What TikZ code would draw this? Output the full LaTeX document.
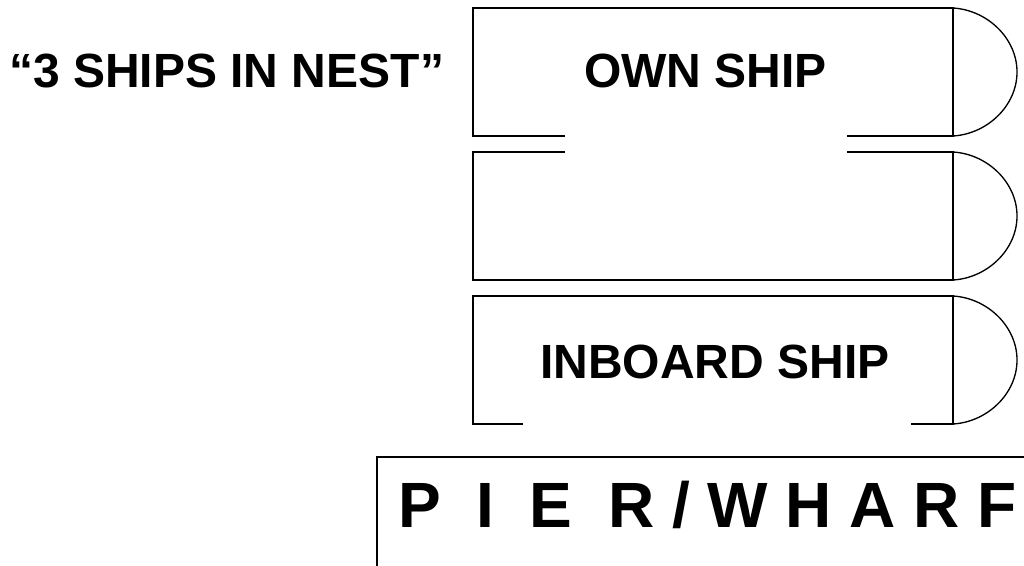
\documentclass[tikz,border=0pt]{standalone}
\usepackage{tikz}
\usepackage{fontspec}
\setmainfont{Liberation Sans}

\begin{document}
\begin{tikzpicture}[x=0.75pt,y=0.75pt,yscale=-1,xscale=1,
    hull/.style={line width=1pt,line join=miter},
    ship label/.style={anchor=base west,inner sep=0pt,font=\fontsize{36}{43}\selectfont\bfseries},
    pier label/.style={anchor=base west,inner sep=0pt,font=\fontsize{48}{58}\selectfont\bfseries}]
    \useasboundingbox (0,0) rectangle (1024,565); %set diagram at 1024 by 565

    %Shape: Own ship hull, open at the bottom
    \draw [hull] (565,136) -- (473,136) -- (473,8) -- (953,8) -- (953,136) -- (847,136) ;
    %Curve Lines: Own ship bow
    \draw [hull] (953,8) .. controls (987,10) and (1017,38) .. (1017,72) .. controls (1017,106) and (987,134) .. (953,136) ;
    %Shape: Middle ship hull, open at the top
    \draw [hull] (565,152) -- (473,152) -- (473,280) -- (953,280) -- (953,152) -- (847,152) ;
    %Curve Lines: Middle ship bow
    \draw [hull] (953,152) .. controls (987,154) and (1017,182) .. (1017,216) .. controls (1017,250) and (987,278) .. (953,280) ;
    %Shape: Inboard ship hull, open at the bottom
    \draw [hull] (523,424) -- (473,424) -- (473,296) -- (953,296) -- (953,424) -- (911,424) ;
    %Curve Lines: Inboard ship bow
    \draw [hull] (953,296) .. controls (987,298) and (1017,326) .. (1017,360) .. controls (1017,394) and (987,422) .. (953,424) ;
    %Straight Lines: Pier edge
    \draw [hull] (377,566) -- (377,457) -- (1025,457) ;

    % Text Node
    \draw (9,87) node (nest) [ship label] {“3 SHIPS IN NEST”};
    % Text Node
    \draw (584,87) node (own) [ship label] {OWN SHIP};
    % Text Node
    \draw (540,378) node (inboard) [ship label] {INBOARD SHIP};
    % Text Node
    \draw (398,527) node (pier) [pier label] {P\ \ I\ \ E\ \ R / W H A R F};

\end{tikzpicture}
\end{document}
